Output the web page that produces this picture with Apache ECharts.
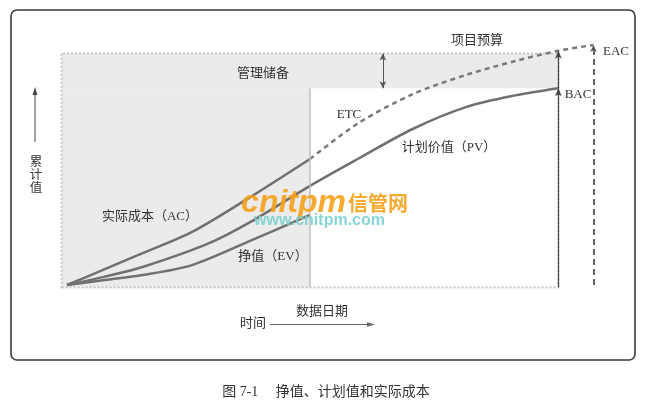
<!DOCTYPE html>
<html>
<head>
<meta charset="utf-8">
<script src="https://cdn.jsdelivr.net/npm/echarts@6/dist/echarts.min.js"></script>
<style>
html,body{margin:0;padding:0;background:#fff;}
#c{width:650px;height:411px;}
</style>
</head>
<body>
<div id="c"></div>
<script>
// ---- data (time units on x, cumulative value on y) ----
const acTime  = [0, 7, 14, 23, 34, 45];
const acValue = [0, 6.6, 13.3, 21.9, 36.7, 52.5];
const evTime  = [0, 7, 14, 23, 34, 45];
const evValue = [0, 2.1, 4.2, 8.2, 18.5, 29.2];
const pvTime  = [0, 7, 14, 26, 34, 45, 54, 64, 74, 83, 91];
const pvValue = [0, 3.5, 7.5, 17.1, 26.3, 41.3, 52.7, 65, 74.2, 79, 82];
const etcTime  = [45, 54, 64, 74, 83, 91, 97.5];
const etcValue = [52.5, 67.5, 79.5, 87.6, 93.3, 97.6, 100];
const dataDate = 45;
const bacTime = 91;
const bac = 82;
const budget = 96.5;
const eacTime = 97.5;
const eac = 100;
const reserveTime = 58.5;

const labels = {
  ac: '实际成本（AC）', ev: '挣值（EV）', pv: '计划价值（PV）', etc: 'ETC',
  bac: 'BAC', eac: 'EAC', reserve: '管理储备', budget: '项目预算',
  yName: '累\n计\n值', xName: '时间', dataDate: '数据日期',
  caption: '图 7-1　 挣值、计划值和实际成本'
};

const pairs = (t, v) => t.map((x, i) => [x, v[i]]);
const etcAt = (t) => etcValue[etcTime.indexOf(t)];

const chart = echarts.init(document.getElementById('c'), null, {renderer: 'canvas'});
const lineCol = '#707070';
const FONT = '"Liberation Serif", "Noto Sans CJK SC", serif';
const txt = (text, x, y, size, extra) => Object.assign({
  type: 'text', z: 50,
  style: Object.assign({text: text, x: x, y: y, fill: '#333', align: 'center', verticalAlign: 'middle',
    font: size + 'px ' + FONT}, extra || {})
});

const option = {
  animation: false,
  backgroundColor: '#fff',
  grid: {left: 61.6, right: 43, top: 45, bottom: 123.6},
  xAxis: {type: 'value', min: -1, max: 100, show: false, splitLine: {show: false}},
  yAxis: {type: 'value', min: -1, max: 100, show: false, splitLine: {show: false}},
  series: [
    { // shaded regions + frame marks
      type: 'line', data: [[0, 0]], symbol: 'none', lineStyle: {opacity: 0}, z: 1, silent: true,
      markArea: {
        silent: true,
        data: [
          [{coord: [-1, bac], itemStyle: {color: '#ebebeb', borderWidth: 0}}, {coord: [bacTime, budget]}],
          [{coord: [-1, -1], itemStyle: {color: '#ebebeb', borderWidth: 0}}, {coord: [dataDate, bac]}],
          [{coord: [-1, -1], itemStyle: {color: 'rgba(0,0,0,0)', borderColor: '#c4c4c4', borderWidth: 2, borderType: 'dotted'}}, {coord: [bacTime, budget]}]
        ]
      },
      markLine: {
        silent: true, symbol: 'none', label: {show: false},
        data: [
          [{coord: [dataDate, -1], lineStyle: {color: '#c0c0c0', width: 1.5, type: 'solid'}}, {coord: [dataDate, bac]}],
          [{coord: [bacTime, -1], symbol: 'none', lineStyle: {color: '#444', width: 1.2, type: 'solid'}},
           {coord: [bacTime, bac], symbol: 'arrow', symbolSize: [5, 8]}],
          [{coord: [bacTime, bac], symbol: 'none', lineStyle: {color: '#444', width: 1.2, type: 'solid'}},
           {coord: [bacTime, etcAt(bacTime)], symbol: 'arrow', symbolSize: [5, 8]}],
          [{coord: [eacTime, 0], symbol: 'none', lineStyle: {color: '#555', width: 1.8, type: [6, 4]}},
           {coord: [eacTime, eac], symbol: 'arrow', symbolSize: [5, 7]}],
          [{coord: [reserveTime, bac], symbol: 'arrow', symbolSize: [5, 7], lineStyle: {color: '#555', width: 1, type: 'solid'}},
           {coord: [reserveTime, budget], symbol: 'arrow', symbolSize: [5, 7]}]
        ]
      }
    },
    {name: 'AC', type: 'line', data: pairs(acTime, acValue), smooth: 0.3, symbol: 'none', z: 3,
      lineStyle: {color: lineCol, width: 2.5}},
    {name: 'PV', type: 'line', data: pairs(pvTime, pvValue), smooth: 0.3, symbol: 'none', z: 3,
      lineStyle: {color: lineCol, width: 2.5}},
    {name: 'EV', type: 'line', data: pairs(evTime, evValue), smooth: 0.3, symbol: 'none', z: 3,
      lineStyle: {color: lineCol, width: 2.5}},
    {name: 'ETC', type: 'line', data: pairs(etcTime, etcValue), smooth: 0.3, symbol: 'none', z: 3,
      lineStyle: {color: '#7a7a7a', width: 2.5, type: [5, 4]}}
  ],
  graphic: [
    {type: 'rect', z: 0, shape: {x: 11, y: 10, width: 624, height: 350, r: 6},
      style: {fill: 'none', stroke: '#3a3a3a', lineWidth: 1.6}},
    txt(labels.budget, 477, 41, 13),
    txt(labels.reserve, 263, 74, 13),
    txt(labels.etc, 349, 115, 13),
    txt(labels.pv, 449, 148, 13),
    txt(labels.ac, 150, 217, 13),
    txt(labels.ev, 273, 257, 13),
    txt(labels.bac, 578, 95, 13),
    txt(labels.eac, 616, 52, 13),
    txt(labels.yName, 36, 176, 12.5, {lineHeight: 13}),
    {type: 'line', z: 50, shape: {x1: 35, y1: 142, x2: 35, y2: 92}, style: {stroke: '#444', lineWidth: 1}},
    {type: 'polygon', z: 50, shape: {points: [[35, 87], [32.6, 95], [37.4, 95]]}, style: {fill: '#444'}},
    txt(labels.dataDate, 322, 312, 13),
    txt(labels.xName, 253, 324, 13),
    {type: 'line', z: 50, shape: {x1: 270, y1: 324.5, x2: 370, y2: 324.5}, style: {stroke: '#666', lineWidth: 1}},
    {type: 'polygon', z: 50, shape: {points: [[375, 324.5], [367, 322.3], [367, 326.7]]}, style: {fill: '#666'}},
    txt(labels.caption, 326, 392, 14),
    // watermark
    {type: 'text', z: 60, style: {text: 'cnitpm', x: 346, y: 203, align: 'right', verticalAlign: 'middle',
      font: 'italic bold 32px "Liberation Sans", sans-serif', fill: '#f6a11a', opacity: 0.9}},
    {type: 'text', z: 60, style: {text: '信管网', x: 348, y: 203, align: 'left', verticalAlign: 'middle',
      font: 'bold 20px "Noto Sans CJK SC", sans-serif', fill: '#f6a11a', opacity: 0.9}},
    {type: 'text', z: 60, style: {text: 'www.cnitpm.com', x: 254, y: 221, align: 'left', verticalAlign: 'middle',
      font: 'bold 16px "Liberation Sans", sans-serif', fill: '#7ccfd0', opacity: 0.9}}
  ]
};
chart.setOption(option);
</script>
</body>
</html>
